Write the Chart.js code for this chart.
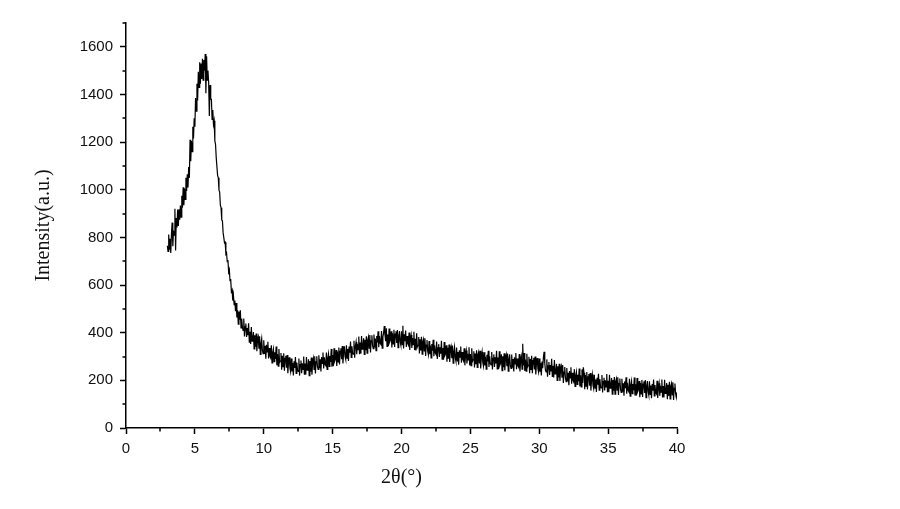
<!DOCTYPE html>
<html>
<head>
<meta charset="utf-8">
<script src="https://cdn.jsdelivr.net/npm/chart.js@4.4.0/dist/chart.umd.min.js"></script>
<style>
  html, body { margin: 0; padding: 0; background: #fff; }
  #wrap { width: 900px; height: 509px; }
</style>
</head>
<body>
<div id="wrap"><canvas id="mycanvas" width="900" height="509"></canvas></div>
<script>
// scan: 2theta from 3.00 to 40.00 deg, 0.05 deg step
var startAngle = 3.0;
var stepAngle = 0.05;

// 3.00 - 7.95 (main peak)
var intensityPeak = [
  765, 741, 812, 748, 794, 735, 816, 862, 763, 829,
  810, 920, 745, 881, 842, 917, 848, 918, 874, 934,
  885, 975, 925, 1010, 935, 1005, 960, 1050, 995, 1065,
  1010, 1095, 1050, 1210, 1120, 1205, 1160, 1265, 1215, 1300,
  1265, 1385, 1330, 1445, 1375, 1495, 1430, 1535, 1445, 1530,
  1465, 1550, 1460, 1545, 1500, 1570, 1405, 1560, 1460, 1500,
  1450, 1310, 1440, 1380, 1380, 1295, 1335, 1275, 1290, 1205,
  1190, 1135, 1135, 1060, 1050, 998, 990, 935, 925, 873,
  870, 820, 820, 778, 780, 730, 735, 698, 705, 655,
  665, 618, 625, 573, 580, 535, 555, 518, 535, 490
];

// 8.00 - 21.95 (valley + amorphous hump)
var intensityHump = [
  525, 464, 494, 436, 489, 455, 494, 420, 459, 423,
  410, 460, 384, 426, 439, 382, 420, 390, 440, 360,
  404, 353, 424, 365, 370, 403, 332, 389, 341, 397,
  322, 374, 384, 333, 385, 309, 355, 375, 328, 312,
  368, 311, 345, 291, 349, 319, 362, 292, 336, 303,
  295, 347, 273, 317, 332, 278, 318, 290, 342, 264,
  310, 260, 332, 275, 281, 315, 245, 303, 257, 314,
  240, 292, 303, 253, 306, 230, 276, 297, 251, 236,
  292, 237, 273, 221, 280, 252, 298, 229, 275, 244,
  238, 292, 220, 266, 283, 230, 272, 246, 300, 224,
  271, 224, 298, 243, 251, 288, 220, 281, 236, 296,
  224, 279, 293, 246, 301, 229, 278, 301, 258, 246,
  305, 251, 288, 237, 298, 271, 317, 250, 297, 267,
  262, 317, 246, 293, 311, 259, 302, 277, 332, 257,
  306, 259, 335, 280, 289, 327, 260, 321, 277, 338,
  267, 322, 335, 289, 344, 271, 320, 343, 301, 288,
  347, 293, 332, 281, 342, 316, 363, 296, 343, 315,
  310, 366, 295, 343, 361, 310, 353, 329, 384, 310,
  359, 312, 386, 331, 340, 377, 309, 370, 326, 385,
  314, 369, 382, 335, 390, 317, 366, 389, 346, 333,
  392, 338, 376, 325, 386, 359, 406, 339, 386, 357,
  352, 407, 335, 382, 399, 428, 390, 364, 419, 343,
  392, 344, 418, 362, 370, 406, 338, 398, 353, 412,
  340, 394, 406, 357, 411, 337, 385, 407, 362, 348,
  406, 350, 429, 334, 393, 364, 409, 340, 386, 355,
  348, 401, 328, 374, 390, 336, 377, 350, 404, 327,
  374, 325, 398, 340, 347, 382, 313, 372, 325, 383,
  310, 363, 373, 324, 377, 302, 348, 369, 324, 308
];

// 22.00 - 40.00 (tail)
var intensityTail = [
  365, 310, 346, 294, 353, 325, 370, 301, 347, 316,
  310, 363, 290, 336, 352, 298, 339, 312, 366, 289,
  336, 287, 361, 304, 311, 347, 278, 337, 291, 350,
  277, 330, 342, 293, 346, 272, 319, 340, 295, 281,
  338, 282, 319, 266, 326, 297, 342, 274, 319, 289,
  282, 335, 263, 308, 325, 271, 312, 286, 339, 263,
  310, 262, 335, 279, 286, 322, 254, 313, 268, 326,
  254, 308, 319, 271, 324, 250, 298, 319, 275, 260,
  318, 263, 299, 247, 307, 279, 324, 256, 301, 271,
  265, 319, 246, 292, 309, 256, 297, 271, 324, 248,
  296, 248, 322, 265, 273, 309, 241, 301, 255, 314,
  242, 296, 308, 259, 313, 239, 287, 309, 264, 250,
  308, 253, 290, 237, 297, 269, 315, 247, 292, 262,
  256, 310, 237, 283, 300, 247, 354, 262, 315, 239,
  287, 239, 312, 256, 263, 299, 230, 290, 244, 303,
  230, 283, 295, 246, 300, 225, 272, 294, 249, 235,
  292, 236, 273, 220, 279, 251, 296, 320, 272, 242,
  235, 288, 215, 261, 277, 223, 264, 237, 291, 214,
  261, 212, 285, 227, 234, 269, 200, 259, 212, 270,
  197, 250, 260, 211, 264, 189, 235, 256, 211, 195,
  252, 196, 232, 180, 239, 210, 255, 186, 232, 201,
  194, 247, 175, 220, 236, 183, 224, 197, 250, 174,
  221, 172, 246, 189, 255, 232, 163, 222, 176, 235,
  162, 215, 227, 178, 231, 157, 204, 225, 180, 166,
  223, 167, 204, 151, 211, 182, 228, 159, 205, 174,
  168, 222, 149, 195, 211, 158, 200, 173, 227, 150,
  198, 150, 223, 167, 174, 210, 142, 201, 156, 214,
  142, 196, 207, 159, 213, 139, 186, 208, 163, 149,
  207, 152, 188, 136, 195, 167, 213, 144, 190, 159,
  153, 207, 134, 180, 197, 144, 185, 159, 212, 136,
  184, 136, 210, 153, 161, 197, 129, 189, 143, 202,
  130, 184, 196, 147, 201, 127, 175, 197, 152, 138,
  196, 141, 178, 125, 185, 157, 203, 135, 180, 150,
  144, 198, 126, 171, 188, 135, 177, 151, 204, 128,
  176, 128, 202, 145, 153, 189, 121, 181, 135, 194,
  122, 176, 187, 139, 192, 118, 166, 187, 143, 128,
  150
];

var xTicksMinor = [2.5, 7.5, 12.5, 17.5, 22.5, 27.5, 32.5, 37.5];
var yTicksMinor = [100, 300, 500, 700, 900, 1100, 1300, 1500, 1700];

var intensity = intensityPeak.concat(intensityHump, intensityTail);
var points = [];
for (var i = 0; i < intensity.length; i++) {
  points.push({ x: +(startAngle + i * stepAngle).toFixed(2), y: intensity[i] });
}

// short minor ticks, like the origin-style plot
var minorTicks = {
  id: 'minorTicks',
  afterDraw: function(chart) {
    var ctx = chart.ctx;
    var xs = chart.scales.x, ys = chart.scales.y;
    var area = chart.chartArea;
    ctx.save();
    ctx.strokeStyle = '#000';
    ctx.lineWidth = 1.5;
    ctx.beginPath();
    xTicksMinor.forEach(function(v) {
      var px = Math.round(xs.getPixelForValue(v));
      ctx.moveTo(px, area.bottom);
      ctx.lineTo(px, area.bottom + 3.5);
    });
    yTicksMinor.forEach(function(v) {
      var py = Math.round(ys.getPixelForValue(v));
      ctx.moveTo(area.left, py);
      ctx.lineTo(area.left - 3.5, py);
    });
    ctx.stroke();
    ctx.restore();
  }
};

var ctx = document.getElementById('mycanvas');
var xrd = new Chart(ctx, {
  type: 'line',
  data: {
    datasets: [{
      label: 'XRD',
      data: points,
      borderColor: '#000',
      borderWidth: 1.2,
      pointRadius: 0,
      fill: false,
      tension: 0
    }]
  },
  options: {
    responsive: false,
    animation: false,
    layout: { padding: { left: 0, top: 23, right: 223, bottom: 0 } },
    plugins: { legend: { display: false }, tooltip: { enabled: false } },
    scales: {
      x: {
        type: 'linear',
        min: 0,
        max: 40,
        afterFit: function(s) { s.height = 81; },
        border: { color: '#000', width: 1.5 },
        grid: { drawOnChartArea: false, tickLength: 6, tickColor: '#000', tickWidth: 1.5 },
        ticks: {
          stepSize: 5, padding: 6, color: '#111',
          font: { family: 'Liberation Sans', size: 15 },
          callback: function(v) { return String(v); }
        },
        title: {
          display: true,
          text: '2θ(°)',
          color: '#111',
          font: { family: 'Liberation Serif', size: 20 },
          padding: { top: 0, bottom: 19 }
        }
      },
      y: {
        min: 0,
        max: 1700,
        afterFit: function(s) { s.width = 126; },
        border: { color: '#000', width: 1.5 },
        grid: { drawOnChartArea: false, tickLength: 6, tickColor: '#000', tickWidth: 1.5 },
        ticks: {
          stepSize: 200, includeBounds: false, padding: 7, color: '#111',
          font: { family: 'Liberation Sans', size: 15 },
          callback: function(v) { return String(v); }
        },
        title: {
          display: true,
          text: 'Intensity(a.u.)',
          color: '#111',
          font: { family: 'Liberation Serif', size: 20 },
          padding: { top: 32, bottom: 0 }
        }
      }
    }
  },
  plugins: [minorTicks]
});
</script>
</body>
</html>
